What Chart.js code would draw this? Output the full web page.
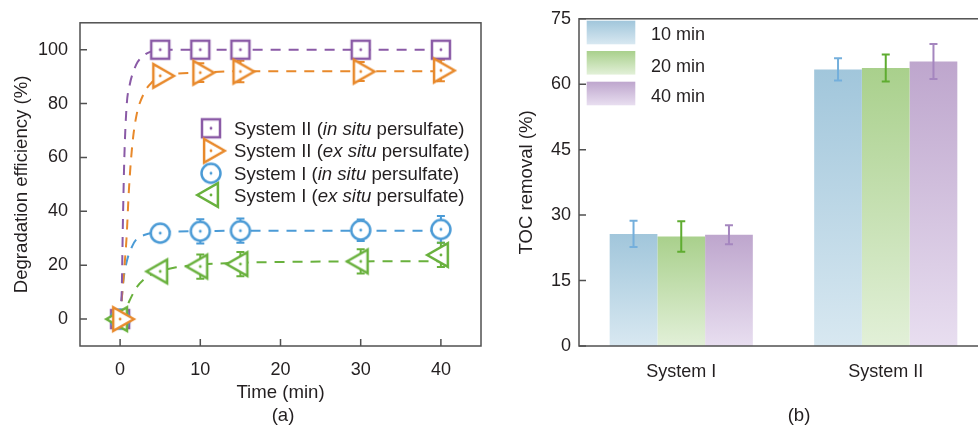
<!DOCTYPE html>
<html>
<head>
<meta charset="utf-8">
<script src="https://cdn.jsdelivr.net/npm/chart.js@4.4.1/dist/chart.umd.min.js"></script>
<style>
html, body { margin:0; padding:0; background:#fff; overflow:hidden; width:978px; height:426px; }
canvas { position:absolute; top:0; }
</style>
</head>
<body>
<canvas id="ca" width="490" height="426" style="left:0;width:490px;height:426px"></canvas>
<canvas id="cb" width="500" height="426" style="left:490px;width:500px;height:426px"></canvas>
<script>
// ---------- Panel (a): degradation efficiency ----------
const times = [0, 5, 10, 15, 30, 40];
const xTicksA = [0, 10, 20, 30, 40];
const yTicksA = [0, 20, 40, 60, 80, 100];
const seriesNames = [
  'System II (in situ persulfate)',
  'System II (ex situ persulfate)',
  'System I (in situ persulfate)',
  'System I (ex situ persulfate)'
];
const sysIIinSitu    = [0, 100, 100, 100, 100, 100];
const sysIIinSituErr = [0, 0.5, 0.5, 0.5, 0.5, 0.5];
const sysIIexSitu    = [0, 90.3, 91.5, 91.9, 91.9, 92.3];
const sysIIexSituErr = [0, 1.5, 3.5, 4, 3.5, 4];
const sysIinSitu     = [0, 31.9, 32.6, 32.8, 33.0, 33.3];
const sysIinSituErr  = [0, 1, 4.5, 4.5, 4, 5];
const sysIexSitu     = [0, 17.7, 19.5, 20.4, 21.4, 23.8];
const sysIexSituErr  = [0, 2, 4.5, 4.5, 4.5, 4.5];

// dashed fitted curves
const fitIIinT = [0, 0.2, 0.35, 0.53, 0.81, 1.2, 1.55, 2.2, 3, 4, 5, 10, 15, 30, 40];
const fitIIinY = [0, 10, 36, 60, 79, 87, 91, 95.5, 98, 99.5, 100, 100, 100, 100, 100];
const fitIIexT = [0, 0.5, 0.8, 1.1, 1.5, 2, 3, 4, 5, 10, 15, 30, 40];
const fitIIexY = [0, 18, 30, 48, 64, 75, 84, 88, 90, 91.5, 92, 92, 92];
const fitIinT  = [0, 0.4, 0.8, 1.5, 2, 3, 5, 10, 15, 30, 40];
const fitIinY  = [0, 14, 21, 27, 29.5, 31.2, 32.3, 32.6, 32.8, 32.8, 32.8];
const fitIexT  = [0, 0.6, 1.2, 2, 3, 4, 5, 7, 10, 15, 20, 30, 40];
const fitIexY  = [0, 3, 7, 11.5, 14.8, 16.7, 17.8, 19.2, 20.2, 20.9, 21.2, 21.4, 21.5];

// ---------- Panel (b): TOC removal ----------
const groups = ['System I', 'System II'];
const timeLabels = ['10 min', '20 min', '40 min'];
const yTicksB = [0, 15, 30, 45, 60, 75];
const toc10 = [25.7, 63.4];
const toc10Err = [3.0, 2.55];
const toc20 = [25.1, 63.7];
const toc20Err = [3.5, 3.1];
const toc40 = [25.5, 65.2];
const toc40Err = [2.2, 4.0];

// ---------- styling ----------
const FONT = "'Liberation Sans', Arial, Helvetica, sans-serif";
const TEXT = '#231f20';
const AXIS = '#505050';
const TITLE_SIZE = 18.6;
Chart.defaults.font.family = FONT;
Chart.defaults.font.size = 18;
Chart.defaults.color = TEXT;

const colPurple = '#8a5aa6', colOrange = '#e8892b', colBlue = '#4b9bd6', colGreen = '#69b13d';

function makeMarker(kind, color) {
  const c = document.createElement('canvas');
  c.width = 34; c.height = 34;
  const g = c.getContext('2d');
  const cx = 17, cy = 17;
  g.lineWidth = 2.5; g.strokeStyle = color; g.fillStyle = '#fff'; g.lineJoin = 'miter';
  g.beginPath();
  if (kind === 'square') g.rect(cx - 9, cy - 9, 18, 18);
  else if (kind === 'circle') g.arc(cx, cy, 9.5, 0, Math.PI * 2);
  else {
    const s = kind === 'tri-right' ? 1 : -1, r = 13.8;
    g.moveTo(cx + s * r, cy);
    g.lineTo(cx - s * r / 2, cy - r * 0.866);
    g.lineTo(cx - s * r / 2, cy + r * 0.866);
    g.closePath();
  }
  g.fill(); g.stroke();
  g.beginPath(); g.arc(cx, cy, 1.4, 0, Math.PI * 2); g.fillStyle = color; g.fill();
  return c;
}

const seriesA = [
  { name: seriesNames[0], vals: sysIIinSitu, err: sysIIinSituErr, color: colPurple, marker: makeMarker('square', colPurple), fitT: fitIIinT, fitY: fitIIinY, order: 3 },
  { name: seriesNames[1], vals: sysIIexSitu, err: sysIIexSituErr, color: colOrange, marker: makeMarker('tri-right', colOrange), fitT: fitIIexT, fitY: fitIIexY, order: 0 },
  { name: seriesNames[2], vals: sysIinSitu, err: sysIinSituErr, color: colBlue, marker: makeMarker('circle', colBlue), fitT: fitIinT, fitY: fitIinY, order: 2 },
  { name: seriesNames[3], vals: sysIexSitu, err: sysIexSituErr, color: colGreen, marker: makeMarker('tri-left', colGreen), fitT: fitIexT, fitY: fitIexY, order: 1 }
];

const markerSets = seriesA.map(s => ({
  label: s.name,
  data: times.map((t, i) => ({ x: t, y: s.vals[i] })),
  showLine: false,
  pointStyle: s.marker,
  pointRadius: 8,
  borderColor: s.color,
  backgroundColor: '#fff',
  order: s.order,
  clip: false
}));
const fitSets = seriesA.map((s, k) => ({
  label: s.name + ' fit',
  data: s.fitT.map((t, i) => ({ x: t, y: s.fitY[i] })),
  borderColor: s.color,
  borderWidth: 2,
  borderDash: [10, 8],
  pointRadius: 0,
  cubicInterpolationMode: 'monotone',
  fill: false,
  order: 10 + k
}));

function drawMixed(ctx, text, x, y) {
  const parts = text.split(/(in situ|ex situ)/);
  parts.forEach(p => {
    if (!p) return;
    const it = /^(in situ|ex situ)$/.test(p);
    ctx.font = (it ? 'italic ' : '') + TITLE_SIZE + 'px ' + FONT;
    ctx.fillText(p, x, y);
    x += ctx.measureText(p).width;
  });
}

const panelA = {
  id: 'panelA',
  beforeDatasetsDraw(chart) {
    const { ctx, scales: { x, y } } = chart;
    seriesA.forEach(s => {
      ctx.save();
      ctx.strokeStyle = s.color; ctx.lineWidth = 2;
      s.vals.forEach((v, i) => {
        const e = s.err[i]; if (!e) return;
        const px = x.getPixelForValue(times[i]);
        const y1 = y.getPixelForValue(v + e), y2 = y.getPixelForValue(v - e);
        ctx.beginPath();
        ctx.moveTo(px, y1); ctx.lineTo(px, y2);
        ctx.moveTo(px - 4, y1); ctx.lineTo(px + 4, y1);
        ctx.moveTo(px - 4, y2); ctx.lineTo(px + 4, y2);
        ctx.stroke();
      });
      ctx.restore();
    });
  },
  afterDraw(chart) {
    const { ctx, chartArea: a, scales: { x, y } } = chart;
    ctx.save();
    ctx.strokeStyle = AXIS; ctx.lineWidth = 1.5;
    ctx.strokeRect(a.left, a.top, a.right - a.left, a.bottom - a.top);
    ctx.beginPath();
    xTicksA.forEach(v => { const p = x.getPixelForValue(v); ctx.moveTo(p, a.bottom); ctx.lineTo(p, a.bottom - 7); });
    yTicksA.forEach(v => { const p = y.getPixelForValue(v); ctx.moveTo(a.left, p); ctx.lineTo(a.left + 7, p); });
    ctx.stroke();
    // legend
    const rowsY = [128.3, 150.7, 173.3, 195];
    ctx.fillStyle = TEXT; ctx.textBaseline = 'alphabetic'; ctx.textAlign = 'left';
    seriesA.forEach((s, i) => {
      ctx.drawImage(s.marker, 211 - 17, rowsY[i] - 17);
      ctx.fillStyle = TEXT;
      drawMixed(ctx, s.name, 234, rowsY[i] + 6.6);
    });
    ctx.font = TITLE_SIZE + 'px ' + FONT; ctx.textAlign = 'center';
    ctx.fillText('(a)', 283, 421);
    ctx.restore();
  }
};

new Chart(document.getElementById('ca'), {
  type: 'line',
  data: { datasets: [...markerSets, ...fitSets] },
  options: {
    responsive: false, animation: false, events: [], devicePixelRatio: 1,
    layout: { padding: { top: 17, right: 1, left: 0, bottom: 0 } },
    plugins: { legend: { display: false }, tooltip: { enabled: false } },
    scales: {
      x: {
        type: 'linear', min: -5, max: 45,
        afterBuildTicks: s => { s.ticks = xTicksA.map(v => ({ value: v })); },
        afterFit: s => { s.height = 80; },
        grid: { display: false, drawTicks: false }, border: { display: false },
        ticks: { padding: 13, color: TEXT, font: { size: 18 } },
        title: { display: true, text: 'Time (min)', color: TEXT, font: { size: TITLE_SIZE }, padding: { top: 0, bottom: 22 } }
      },
      y: {
        type: 'linear', min: -10, max: 110,
        afterBuildTicks: s => { s.ticks = yTicksA.map(v => ({ value: v })); },
        afterFit: s => { s.width = 80; },
        grid: { display: false, drawTicks: false }, border: { display: false },
        ticks: { padding: 12, color: TEXT, font: { size: 18 } },
        title: { display: true, text: 'Degradation efficiency (%)', color: TEXT, font: { size: TITLE_SIZE }, padding: { top: 11, bottom: 0 } }
      }
    }
  },
  plugins: [panelA]
});

// ---------- Panel (b) chart ----------
const tocVals = [toc10, toc20, toc40];
const tocErrs = [toc10Err, toc20Err, toc40Err];
const barTop = ['#a1c6db', '#a9d08c', '#bea6cd'];
const barBottom = ['#d8e8f1', '#e2f0d8', '#e8def0'];
const errCols = ['#74afdc', '#5fac30', '#a586bf'];

function barGradient(k) {
  return (c) => {
    const chart = c.chart;
    if (!chart.chartArea || c.type !== 'data') return barTop[k];
    const ys = chart.scales.y;
    const v = tocVals[k][c.dataIndex];
    const g = chart.ctx.createLinearGradient(0, ys.getPixelForValue(v), 0, ys.getPixelForValue(0));
    g.addColorStop(0, barTop[k]); g.addColorStop(1, barBottom[k]);
    return g;
  };
}

const panelB = {
  id: 'panelB',
  afterDatasetsDraw(chart) {
    const { ctx, scales: { y } } = chart;
    ctx.save();
    ctx.lineWidth = 2;
    tocVals.forEach((vals, k) => {
      const meta = chart.getDatasetMeta(k);
      ctx.strokeStyle = errCols[k];
      vals.forEach((v, i) => {
        const px = meta.data[i].x;
        const y1 = y.getPixelForValue(v + tocErrs[k][i]), y2 = y.getPixelForValue(v - tocErrs[k][i]);
        ctx.beginPath();
        ctx.moveTo(px, y1); ctx.lineTo(px, y2);
        ctx.moveTo(px - 4, y1); ctx.lineTo(px + 4, y1);
        ctx.moveTo(px - 4, y2); ctx.lineTo(px + 4, y2);
        ctx.stroke();
      });
    });
    ctx.restore();
  },
  afterDraw(chart) {
    const { ctx, chartArea: a, scales: { y } } = chart;
    ctx.save();
    ctx.strokeStyle = AXIS; ctx.lineWidth = 1.5;
    ctx.strokeRect(a.left, a.top, a.right - a.left, a.bottom - a.top);
    ctx.beginPath();
    yTicksB.forEach(v => { const p = y.getPixelForValue(v); ctx.moveTo(a.left, p); ctx.lineTo(a.left + 7, p); });
    ctx.stroke();
    // legend
    const boxTops = [20.7, 51, 81.7];
    const textBase = [39.7, 72.4, 102.4];
    timeLabels.forEach((lab, k) => {
      const g = ctx.createLinearGradient(0, boxTops[k], 0, boxTops[k] + 23.6);
      g.addColorStop(0, barTop[k]); g.addColorStop(1, barBottom[k]);
      ctx.fillStyle = g;
      ctx.fillRect(96.7, boxTops[k], 48.6, 23.6);
      ctx.fillStyle = TEXT; ctx.font = '18px ' + FONT; ctx.textAlign = 'left'; ctx.textBaseline = 'alphabetic';
      ctx.fillText(lab, 161, textBase[k]);
    });
    ctx.font = TITLE_SIZE + 'px ' + FONT;
    ctx.textAlign = 'center';
    ctx.fillText('(b)', 309, 421);
    ctx.restore();
  }
};

new Chart(document.getElementById('cb'), {
  type: 'bar',
  data: {
    labels: groups,
    datasets: timeLabels.map((lab, k) => ({
      label: lab,
      data: tocVals[k],
      backgroundColor: barGradient(k),
      borderWidth: 0,
      categoryPercentage: 0.7,
      barPercentage: 1.0
    }))
  },
  options: {
    responsive: false, animation: false, events: [], devicePixelRatio: 1,
    layout: { padding: { top: 17, right: 2, left: 0, bottom: 0 } },
    plugins: { legend: { display: false }, tooltip: { enabled: false } },
    scales: {
      x: {
        grid: { display: false, drawTicks: false }, border: { display: false },
        afterFit: s => { s.height = 80; },
        ticks: { padding: 15, color: TEXT, font: { size: 18 } }
      },
      y: {
        min: 0, max: 75,
        afterBuildTicks: s => { s.ticks = yTicksB.map(v => ({ value: v })); },
        afterFit: s => { s.width = 89; },
        grid: { display: false, drawTicks: false }, border: { display: false },
        ticks: { padding: 8, color: TEXT, font: { size: 18 } },
        title: { display: true, text: 'TOC removal (%)', color: TEXT, font: { size: TITLE_SIZE }, padding: { top: 26, bottom: 0 } }
      }
    }
  },
  plugins: [panelB]
});
</script>
</body>
</html>
